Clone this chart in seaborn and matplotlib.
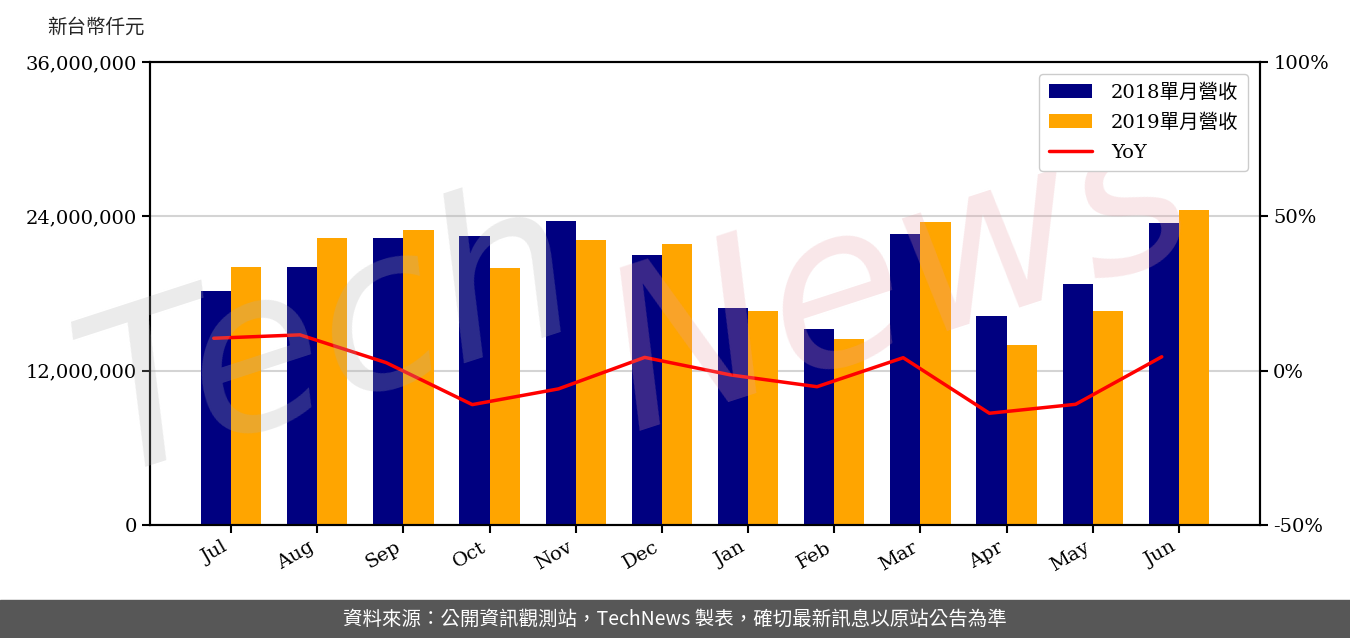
import numpy as np
import pandas as pd
import seaborn as sns
import matplotlib.pyplot as plt
from matplotlib.patches import Rectangle
from matplotlib.ticker import FuncFormatter

# monthly revenue (NT$ thousand) and YoY (%)
months = ['Jul', 'Aug', 'Sep', 'Oct', 'Nov', 'Dec',
          'Jan', 'Feb', 'Mar', 'Apr', 'May', 'Jun']
rev_2018 = [18190000, 20060000, 22320000, 22470000, 23640000, 20990000,
            16870000, 15240000, 22630000, 16250000, 18740000, 23480000]
rev_2019 = [20060000, 22320000, 22940000, 19980000, 22160000, 21850000,
            16640000, 14460000, 23560000, 14000000, 16640000, 24490000]
yoy = [10.5, 11.6, 2.6, -11.0, -5.9, 4.3, -1.4, -5.2, 4.2, -13.8, -10.9, 4.5]
series_names = ['2018單月營收', '2019單月營收']

sns.set_theme(style='ticks')
plt.rcParams['font.family'] = ['DejaVu Serif', 'Noto Sans CJK TC']
plt.rcParams['axes.edgecolor'] = 'black'
plt.rcParams['axes.linewidth'] = 1.5

df = pd.DataFrame({
    'month': months * 2,
    'revenue': rev_2018 + rev_2019,
    'series': [series_names[0]] * 12 + [series_names[1]] * 12,
})

fig = plt.figure(figsize=(13.5, 6.38), dpi=100)
ax = fig.add_axes([150 / 1350, 1 - 525 / 638, 1110 / 1350, 463 / 638])

sns.barplot(data=df, x='month', y='revenue', hue='series',
            palette=['#000080', '#FFA500'], saturation=1, width=0.7,
            linewidth=0, ax=ax)
ax.set_ylim(0, 36000000)
ax.set_yticks([0, 12000000, 24000000, 36000000])
ax.yaxis.set_major_formatter(FuncFormatter(lambda v, p: f'{v:,.0f}'))
ax.yaxis.grid(True, color='#d4d4d4', lw=1.5)
ax.set_axisbelow(True)
ax.set_xlabel('')
ax.set_ylabel('')
ax.tick_params(axis='both', labelsize=14, colors='black', width=1.5, length=6)
for lbl in ax.get_xticklabels():
    lbl.set_rotation(30)
    lbl.set_ha('right')

# YoY line on the right axis
ax2 = ax.twinx()
sns.lineplot(x=np.arange(len(months)) - 0.2, y=yoy, color='red', lw=2.5,
             ax=ax2, label='YoY')
ax2.set_ylim(-50, 100)
ax2.set_yticks([-50, 0, 50, 100])
ax2.yaxis.set_major_formatter(FuncFormatter(lambda v, p: f'{v:.0f}%'))
ax2.tick_params(axis='y', labelsize=14, colors='black', width=1.5, length=6)
ax2.set_ylabel('')
ax.set_xlim(-0.94, 11.94)

for s in ax2.spines.values():
    s.set_color('black')
    s.set_linewidth(1.5)

# combined legend
h1, l1 = ax.get_legend_handles_labels()
h2, l2 = ax2.get_legend_handles_labels()
ax.get_legend().remove()
leg = ax2.legend(h1 + h2, l1 + l2, loc='upper right', fontsize=14,
                 frameon=True, edgecolor='#cccccc', fancybox=True,
                 handlelength=2.2, handletextpad=1.0, labelspacing=0.6,
                 borderpad=0.5, borderaxespad=0.6, framealpha=1)
for t in leg.get_texts():
    t.set_color('black')

fig.text(96 / 1350, 1 - 27 / 638, '新台幣仟元', ha='center', va='center',
         fontsize=14)

# watermark: above the bars, below the legend
ax2.text(330 / 1350, 1 - 340 / 638, 'Tech', rotation=18, fontsize=160,
         color='#b0b0b0', alpha=0.25, ha='center', va='center',
         style='italic', family=['DejaVu Sans'], zorder=3,
         transform=fig.transFigure, clip_on=False)
ax2.text(900 / 1350, 1 - 280 / 638, 'News', rotation=18, fontsize=160,
         color='#e8a0a8', alpha=0.25, ha='center', va='center',
         style='italic', family=['DejaVu Sans'], zorder=3,
         transform=fig.transFigure, clip_on=False)

# footer
fig.patches.append(Rectangle((0, 0), 1, 38 / 638, transform=fig.transFigure,
                             color='#575757', zorder=0))
fig.text(0.5, 1 - 619 / 638,
         '資料來源：公開資訊觀測站，TechNews 製表，確切最新訊息以原站公告為準',
         ha='center', va='center', fontsize=14, color='white',
         family=['Noto Sans CJK TC'])

fig.savefig('out.png', dpi=100)
